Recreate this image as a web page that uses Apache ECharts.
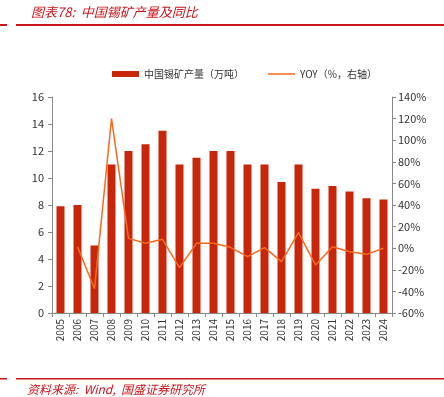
<!DOCTYPE html>
<html>
<head>
<meta charset="utf-8">
<script src="https://cdn.jsdelivr.net/npm/echarts@6/dist/echarts.min.js"></script>
<style>
  html, body { margin: 0; padding: 0; background: #fff; }
  #chart { width: 444px; height: 397px; }
</style>
</head>
<body>
<div id="chart"></div>
<script>
// 年份
var years = ['2005','2006','2007','2008','2009','2010','2011','2012','2013','2014',
             '2015','2016','2017','2018','2019','2020','2021','2022','2023','2024'];
// 中国锡矿产量（万吨）
var output = [7.9, 8.0, 5.0, 11.0, 12.0, 12.5, 13.5, 11.0, 11.5, 12.0,
              12.0, 11.0, 11.0, 9.7, 11.0, 9.2, 9.4, 9.0, 8.5, 8.4];
// 同比（%）
var yoy = [null, 1.3, -37.5, 120, 9.1, 4.5, 8.2, -18, 4.5, 4.5,
           0.8, -7.8, 0.5, -12.5, 14.4, -15.5, 1.4, -3.2, -5.7, 0];

var barColor = '#C8260A';
var lineColor = '#F76A1E';
var redLine = '#C8161D';
var axisColor = '#888';
var font = '"Noto Sans CJK SC", sans-serif';

var chart = echarts.init(document.getElementById('chart'));
chart.setOption({
  animation: false,
  textStyle: { fontFamily: font },
  title: {
    text: '图表78:  中国锡矿产量及同比',
    left: 26, top: 1,
    textStyle: { color: redLine, fontSize: 13, fontStyle: 'italic', fontWeight: 'normal', fontFamily: font }
  },
  graphic: [
    { type: 'rect', shape: { x: 0, y: 24, width: 7, height: 2 }, style: { fill: redLine } },
    { type: 'rect', shape: { x: 16, y: 24, width: 428, height: 2 }, style: { fill: redLine } },
    { type: 'rect', shape: { x: 0, y: 378, width: 7, height: 1.5 }, style: { fill: redLine } },
    { type: 'rect', shape: { x: 16, y: 378, width: 428, height: 1.5 }, style: { fill: redLine } },
    { type: 'text', left: 27, top: 383,
      style: { text: '资料来源:  Wind,  国盛证券研究所', fill: redLine, fontSize: 12, fontStyle: 'italic', fontFamily: font } }
  ],
  legend: {
    top: 64, left: 107,
    itemGap: 24,
    itemWidth: 27, itemHeight: 6,
    textStyle: { fontSize: 10, color: '#333', fontFamily: font },
    data: [
      { name: '中国锡矿产量（万吨）', icon: 'rect' },
      { name: 'YOY（%，右轴）', icon: 'path://M0,0 L27,0 L27,1.5 L0,1.5 Z' }
    ]
  },
  grid: { left: 52, right: 52, top: 97, bottom: 84 },
  xAxis: {
    type: 'category',
    data: years,
    axisLine: { lineStyle: { color: axisColor } },
    axisTick: { show: true, length: 4, lineStyle: { color: axisColor } },
    axisLabel: { rotate: 90, fontSize: 10, color: '#333', interval: 0, margin: 6 }
  },
  yAxis: [
    {
      type: 'value', min: 0, max: 16, interval: 2,
      axisLine: { show: true, lineStyle: { color: axisColor } },
      axisTick: { show: true, length: 4, lineStyle: { color: axisColor } },
      splitLine: { show: false },
      axisLabel: { fontSize: 11, color: '#333', margin: 8 }
    },
    {
      type: 'value', min: -60, max: 140, interval: 20,
      position: 'right',
      axisLine: { show: true, lineStyle: { color: axisColor } },
      axisTick: { show: true, length: 4, lineStyle: { color: axisColor } },
      splitLine: { show: false },
      axisLabel: { fontSize: 11, color: '#333', margin: 6, formatter: '{value}%' }
    }
  ],
  series: [
    {
      name: '中国锡矿产量（万吨）',
      type: 'bar',
      data: output,
      barWidth: 8,
      itemStyle: { color: barColor }
    },
    {
      name: 'YOY（%，右轴）',
      type: 'line',
      yAxisIndex: 1,
      data: yoy,
      symbol: 'none',
      lineStyle: { color: lineColor, width: 1.5 },
      itemStyle: { color: lineColor }
    }
  ]
});
</script>
</body>
</html>
